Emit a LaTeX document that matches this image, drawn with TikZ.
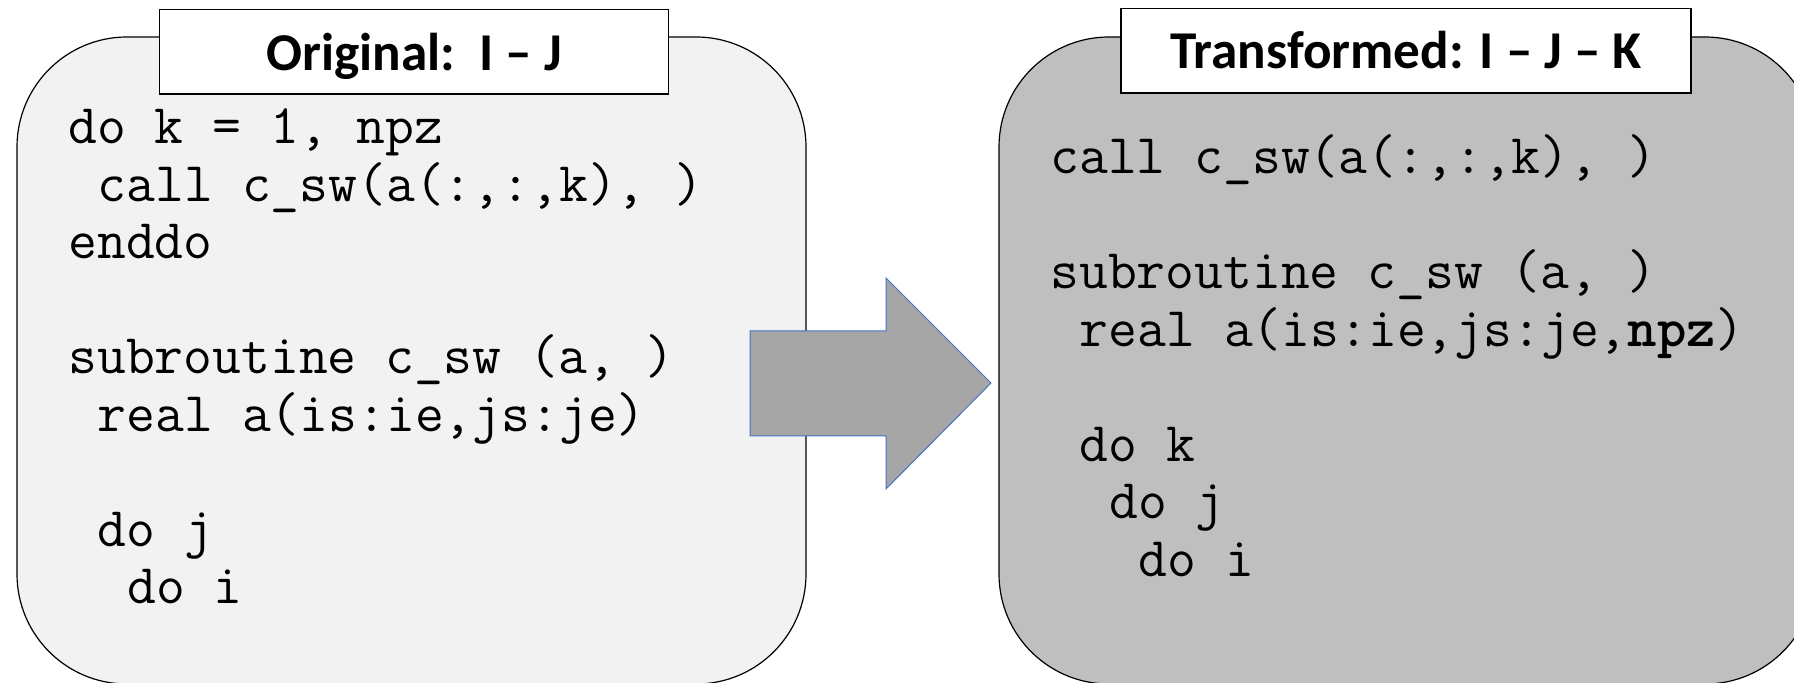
\documentclass[tikz,border=0pt]{standalone}
\usepackage{fontspec}
\setmainfont{Carlito}
\definecolor{lightpanel}{HTML}{F2F2F2}
\definecolor{darkpanel}{HTML}{BFBFBF}
\definecolor{arrowfill}{HTML}{A6A6A6}
\definecolor{arrowedge}{HTML}{4472C4}
\tikzset{
  panel/.style={draw=black, line width=0.6pt, rounded corners=55pt},
  titlebox/.style={draw=black, fill=white, line width=0.6pt},
  titletext/.style={font=\fontsize{26.6}{30}\selectfont\bfseries, anchor=base, inner sep=0pt},
  codeline/.style={font=\ttfamily\fontsize{28}{33}\selectfont, anchor=base west, inner sep=0pt},
  bigarrow/.style={fill=arrowfill, draw=arrowedge, line width=0.5pt, line join=miter},
}
\def\cw{29.4}
\begin{document}
\begin{tikzpicture}[x=0.5pt,y=-0.5pt]
\useasboundingbox (0,0) rectangle (1794,683);
\begin{scope}
\clip (0,0) rectangle (1794,683);
% panels
\draw[panel, fill=lightpanel] (17,37) rectangle (806,684);
\draw[panel, fill=darkpanel] (999,37) rectangle (1815,684);
% arrow
\draw[bigarrow] (750,331) -- (886,331) -- (886,278) -- (991,383) -- (886,489) -- (886,436) -- (750,436) -- cycle;
% title boxes
\draw[titlebox] (159.5,9.5) rectangle (668.5,94);
\node[titletext] (t1) at (414,70.5) {Original:\ \ I – J};
\draw[titlebox] (1121,8.5) rectangle (1691,93);
\node[titletext] (t2) at (1406,68.5) {Transformed: I – J – K};
% left code
\node[codeline] (l1) at (68,144) {do k = 1, npz};
\node[codeline] (l2) at ({68+\cw},201.5) {call c\_sw(a(:,:,k), )};
\node[codeline] (l3) at (68,259) {enddo};
\node[codeline] (l4) at (68,374) {subroutine c\_sw (a, )};
\node[codeline] (l5) at ({68+\cw},431.5) {real a(is:ie,js:je)};
\node[codeline] (l6) at ({68+\cw},546.5) {do j};
\node[codeline] (l7) at ({68+2*\cw},604) {do i};
% right code
\node[codeline] (r1) at (1050,174) {call c\_sw(a(:,:,k), )};
\node[codeline] (r2) at (1050,289) {subroutine c\_sw (a, )};
\node[codeline] (r3) at ({1050+\cw},346.5) {real a(is:ie,js:je,\textbf{npz})};
\node[codeline] (r4) at ({1050+\cw},461.5) {do k};
\node[codeline] (r5) at ({1050+2*\cw},519) {do j};
\node[codeline] (r6) at ({1050+3*\cw},576.5) {do i};
\end{scope}
\end{tikzpicture}
\end{document}
